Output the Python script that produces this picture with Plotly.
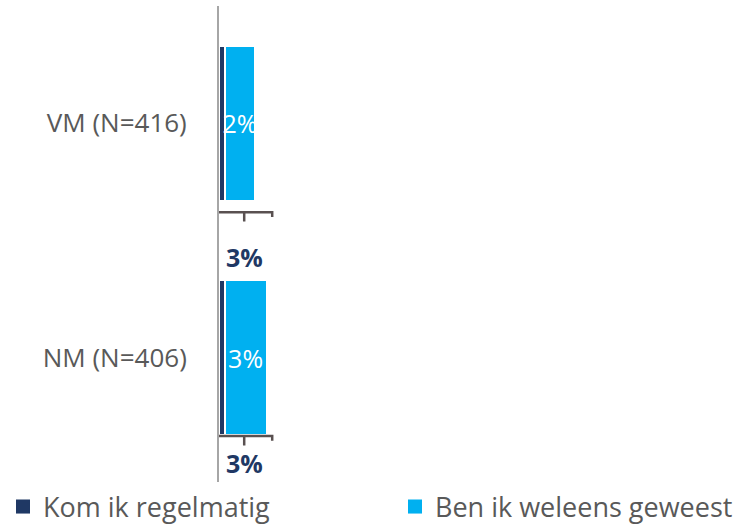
import plotly.graph_objects as go

# Survey results per group
categories = ["VM (N=416)", "NM (N=406)"]
regelmatig = [0.4, 0.4]      # "Kom ik regelmatig" (%)
weleens = [2.2, 3.0]         # "Ben ik weleens geweest" (%)
totals = [r + w for r, w in zip(regelmatig, weleens)]
series_names = ["Kom ik regelmatig", "Ben ik weleens geweest"]

NAVY = "#1f3864"
CYAN = "#00b0f0"
GREY_TEXT = "#595959"
FONT = "Open Sans"
FS = 26
FS_LEGEND = 27

fig = go.Figure()
fig.add_trace(go.Bar(
    y=categories, x=regelmatig, orientation="h", name=series_names[0],
    marker=dict(color=NAVY, line=dict(color="white", width=2)),
    showlegend=False, hoverinfo="x+y",
))
fig.add_trace(go.Bar(
    y=categories, x=weleens, orientation="h", name=series_names[1],
    marker=dict(color=CYAN, line=dict(color="white", width=2)),
    texttemplate="%{x:.0f}%", textposition="inside", insidetextanchor="middle",
    constraintext="none", textangle=0,
    textfont=dict(color="white", size=25, family=FONT),
    showlegend=False, hoverinfo="x+y",
))

# Legend entries with solid square swatches, one legend box per series
for name, col, lg in zip(series_names, [NAVY, CYAN], ["legend", "legend2"]):
    fig.add_trace(go.Scatter(y=[None], x=[None], mode="markers", name=name,
                             marker=dict(color=col, symbol="square", size=14),
                             legend=lg, showlegend=True, hoverinfo="skip"))

# Bracket under each bar with the combined percentage below it
bracket_x0, bracket_x1 = -0.2, 3.8
bracket_mid = (bracket_x0 + bracket_x1) / 2
bracket_off = [0.38, 0.335]
tick_len = 0.04
label_off = [0.57, 0.45]
for i, (cat, tot) in enumerate(zip(categories, totals)):
    yb = i + bracket_off[i]
    path = (f"M {bracket_x0} {yb + 0.02} L {bracket_x0} {yb} L {bracket_x1} {yb} "
            f"L {bracket_x1} {yb + 0.02} M {bracket_mid} {yb} L {bracket_mid} {yb + tick_len}")
    fig.add_shape(type="path", path=path, xref="x", yref="y",
                  line=dict(color="#595050", width=2.5))
    fig.add_annotation(x=bracket_mid, y=i + label_off[i], xref="x", yref="y",
                       text=f"<b>{tot:.0f}%</b>", showarrow=False,
                       font=dict(color=NAVY, size=25, family=FONT))

legend_style = dict(orientation="h", xref="container", yref="container",
                    xanchor="left", yanchor="middle", y=20 / 527,
                    font=dict(size=FS_LEGEND, color=GREY_TEXT, family=FONT),
                    itemwidth=30, bgcolor="rgba(0,0,0,0)")

fig.update_layout(
    barmode="stack",
    bargap=0.34,
    width=739, height=527,
    margin=dict(l=219, r=0, t=6, b=45, autoexpand=False),
    plot_bgcolor="white", paper_bgcolor="white",
    font=dict(family=FONT, color=GREY_TEXT, size=FS),
    showlegend=True,
    legend=dict(legend_style, x=3 / 739),
    legend2=dict(legend_style, x=395 / 739),
)
fig.update_xaxes(range=[0, 520 / 14], showgrid=False, zeroline=False,
                 showticklabels=False, showline=False)
fig.update_yaxes(autorange="reversed", showgrid=False, zeroline=False,
                 showline=True, linecolor="#a6a6a6", linewidth=2,
                 ticks="", ticklabelstandoff=25,
                 tickfont=dict(size=FS, color=GREY_TEXT, family=FONT))

fig.write_html("out.html")
